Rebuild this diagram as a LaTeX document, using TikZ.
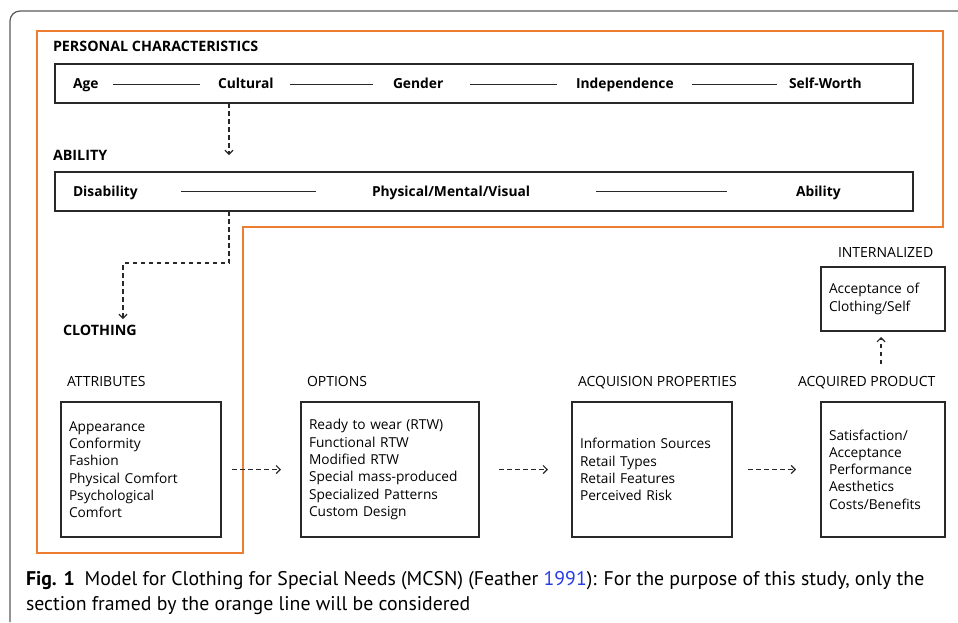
\documentclass[tikz,border=0pt]{standalone}
\usepackage{fontspec}
\setmainfont{Open Sans}
\newfontfamily\capfont{PT Sans}
\usetikzlibrary{arrows.meta}
\definecolor{frameorange}{RGB}{237,125,49}
\definecolor{boxgray}{RGB}{40,40,40}
\definecolor{framegray}{RGB}{90,90,90}
\definecolor{linkblue}{RGB}{40,60,230}
\begin{document}
\begin{tikzpicture}[x=1pt,y=-1pt,
  every node/.style={inner sep=0pt, outer sep=0pt},
  headb/.style={anchor=base west, font=\fontsize{14.3}{17}\selectfont\bfseries},
  head/.style={anchor=base west, font=\fontsize{14}{17}\selectfont},
  item/.style={anchor=base west, text height=11pt, text depth=2pt, font=\fontsize{13.8}{17}\selectfont\bfseries},
  rowbox/.style={draw=boxgray, line width=1.3pt, minimum width=858pt, minimum height=39pt},
  listbox/.style={draw=boxgray, line width=1.3pt, align=left, inner xsep=8pt, font=\fontsize{13.7}{17.3}\selectfont},
  solidlink/.style={draw=boxgray, line width=1.1pt},
  dasharrow/.style={draw=boxgray, line width=1.2pt, dash pattern=on 4.5pt off 3.5pt, -{Straight Barb[length=4pt,width=8pt]}},
  captext/.style={anchor=base west, font=\capfont\fontsize{19.8}{23}\selectfont},
]
\useasboundingbox (0,0) rectangle (958,622);
% outer page frame
\draw[framegray, line width=1.2pt, rounded corners=10pt] (958,11) -- (10,11) -- (10,622);
% orange frame
\draw[frameorange, line width=2pt] (37,31) -- (943,31) -- (943,227) -- (243,227) -- (243,553) -- (37,553) -- cycle;

% personal characteristics
\node[headb] (pclabel) at (53,51.6) {PERSONAL CHARACTERISTICS};
\node[rowbox] (pc) at (484,83.5) {};
\node[item] (age) at (73,88.6) {Age};
\node[item] (cult) at (218,88.6) {Cultural};
\node[item] (gend) at (393,88.6) {Gender};
\node[item] (indep) at (576,88.6) {Independence};
\node[item] (self) at (789,88.6) {Self-Worth};
\draw[solidlink, shorten <=15pt, shorten >=18pt] (age.east) -- (cult.west);
\draw[solidlink, shorten <=16pt, shorten >=20pt] (cult.east) -- (gend.west);
\draw[solidlink, shorten <=27pt, shorten >=19pt] (gend.east) -- (indep.west);
\draw[solidlink, shorten <=18pt, shorten >=12pt] (indep.east) -- (self.west);

% ability
\node[headb] (ablabel) at (53,160.6) {ABILITY};
\node[rowbox] (ab) at (484,191.5) {};
\node[item] (dis) at (73,196.1) {Disability};
\node[item] (pmv) at (372,196.1) {Physical/Mental/Visual};
\node[item] (abil) at (796,196.1) {Ability};
\draw[solidlink, shorten <=43pt, shorten >=56pt] (dis.east) -- (pmv.west);
\draw[solidlink, shorten <=66pt, shorten >=69pt] (pmv.east) -- (abil.west);

\coordinate (d1e) at (229,155);
\coordinate (d2e) at (123,319);
\draw[dasharrow] (pc.south -| d1e) -- (d1e);
\draw[dasharrow] (ab.south -| d1e) -- ++(0,52) -| (d2e);

% clothing
\node[headb] (cloth) at (63,335.6) {CLOTHING};
\node[head] (attrlabel) at (67,386.6) {ATTRIBUTES};
\node[head] (optlabel) at (307,386.6) {OPTIONS};
\node[head] (acqlabel) at (578,386.6) {ACQUISION PROPERTIES};
\node[head] (prodlabel) at (798,386.6) {ACQUIRED PRODUCT};
\node[head] (intlabel) at (838,257.6) {INTERNALIZED};

\node[listbox, text width=144pt, minimum height=135pt] (attr) at (141,469.5)
  {Appearance\\Conformity\\Fashion\\Physical Comfort\\Psychological\\Comfort};
\node[listbox, text width=162pt, minimum height=135pt] (opt) at (390,469.5)
  {Ready to wear (RTW)\\Functional RTW\\Modified RTW\\Special mass-produced\\Specialized Patterns\\Custom Design};
\node[listbox, text width=144pt, minimum height=135pt] (acq) at (652,469.5)
  {Information Sources\\Retail Types\\Retail Features\\Perceived Risk};
\node[listbox, text width=108pt, minimum height=135pt] (prod) at (883,469.5)
  {Satisfaction/\\Acceptance\\Performance\\Aesthetics\\Costs/Benefits};
\node[listbox, text width=108pt, minimum height=64pt] (intern) at (883,299)
  {Acceptance of\\Clothing/Self};

\draw[dasharrow, shorten <=11pt, shorten >=20pt] (attr.east) -- (opt.west);
\draw[dasharrow, shorten <=20pt, shorten >=24pt] (opt.east) -- (acq.west);
\draw[dasharrow, shorten <=16pt, shorten >=25pt] (acq.east) -- (prod.west);
\coordinate (u1s) at (881,364);
\draw[dasharrow, shorten >=6pt] (u1s) -- (intern.south -| u1s);

% caption
\node[captext] (cap1) at (26,585) {\textbf{Fig. 1}\enspace Model for Clothing for Special Needs (MCSN) (Feather {\color{linkblue}1991}): For the purpose of this study, only the};
\node[captext] (cap2) at (26,610) {section framed by the orange line will be considered};
\end{tikzpicture}
\end{document}
